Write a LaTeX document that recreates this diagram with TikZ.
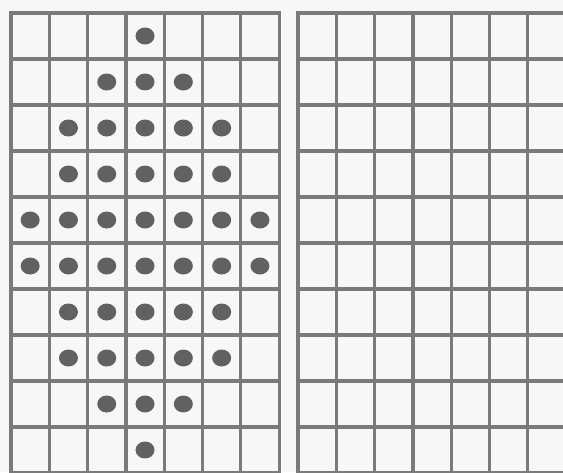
\documentclass[tikz,border=0pt]{standalone}

\begin{document}
\begin{tikzpicture}[x=1pt, y=-1pt,
  gridline/.style={draw=black!52, line width=3.2pt},
  bead/.style={fill=black!62, draw=none}]
\fill[white!97!black] (0,0) rectangle (563,472);
\clip (0,0) rectangle (563,472);
% two grids of 7 columns and 10 rows
\foreach \gx in {11,298}{
  \foreach \i in {0,...,7} \draw[gridline] (\gx+38.3*\i,13) -- (\gx+38.3*\i,473);
  \foreach \j in {0,...,10} \draw[gridline] (\gx-1.6,13+46*\j) -- (\gx+269.7,13+46*\j);
}
% dots: row / first column / last column
\foreach \r/\a/\b in {1/4/4,2/3/5,3/2/6,4/2/6,5/1/7,6/1/7,7/2/6,8/2/6,9/3/5,10/4/4}{
  \foreach \c in {\a,...,\b}
    \fill[bead] (11+38.3*\c-19.15,13+46*\r-23) ellipse[x radius=9.5, y radius=8.5];
}
\end{tikzpicture}
\end{document}
